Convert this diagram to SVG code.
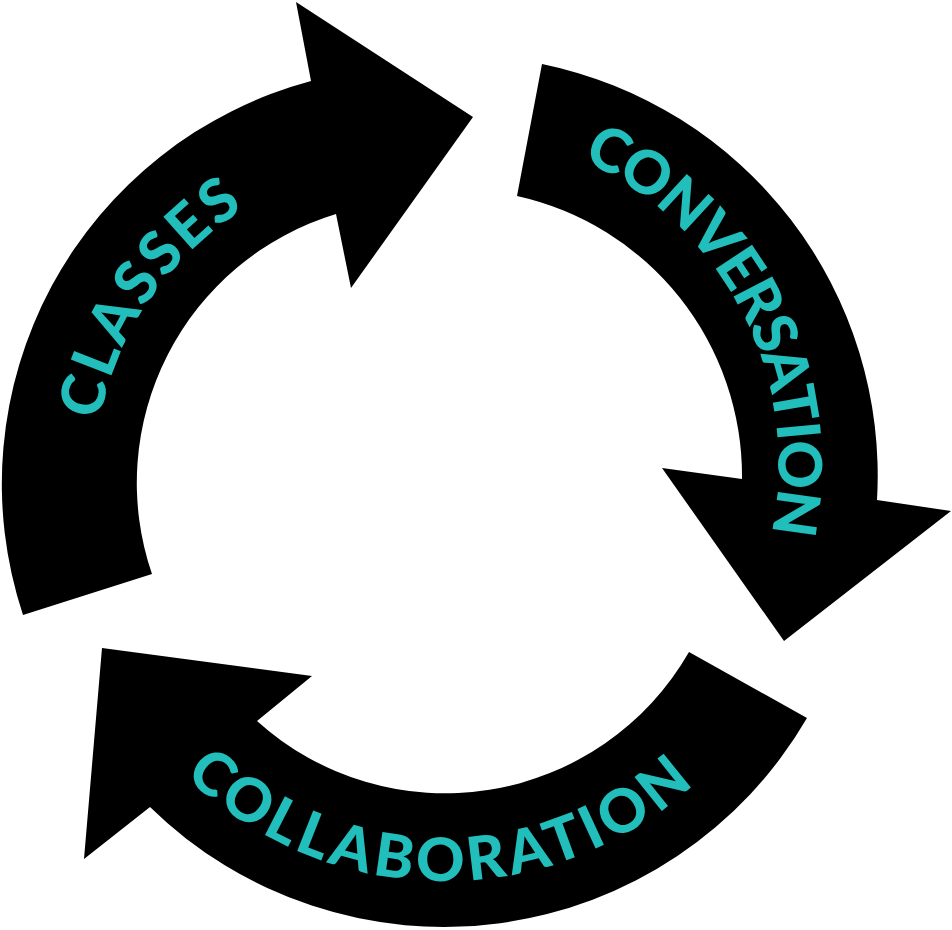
<svg xmlns="http://www.w3.org/2000/svg" xmlns:xlink="http://www.w3.org/1999/xlink" width="952" height="930" viewBox="0 0 952 930">
  <style>
    .arrow { fill: #000000; stroke: none; }
    .label { fill: #22BEBB; font-family: "Lato", "Liberation Sans", sans-serif; font-weight: 900; font-size: 60px; }
  </style>
  <defs>
    <path id="p-classes" d="M 99.3,420.5 A 324.8 324.8 0 0 1 244.0,208.8"/>
    <path id="p-conversation" d="M 581.7,159.8 A 333.5 333.5 0 0 1 771.2,533.3"/>
    <path id="p-collaboration" d="M 184.4,775.1 A 371 371 0 0 0 693.7,784.4"/>
  </defs>
  <rect width="952" height="930" fill="#ffffff"/>
  <g id="connectors">
    <path id="arrow-classes" class="arrow" d="M 23,615 A 417 417 0 0 1 311,81 L 296,2 L 473,117 L 351,288 L 336,214 A 281 281 0 0 0 152,574 Z"/>
    <path id="arrow-conversation" class="arrow" d="M 542,64 A 420 420 0 0 1 877,500 L 951,511 L 784,641 L 662,468 L 742,479 A 287 287 0 0 0 517,196 Z"/>
    <path id="arrow-collaboration" class="arrow" d="M 807,718 A 420 420 0 0 1 150,807 L 84,859 L 102,648 L 312,676 L 257,721 A 281 281 0 0 0 689,652 Z"/>
  </g>
  <g id="node-classes">
    <text class="label"><textPath xlink:href="#p-classes" href="#p-classes" textLength="263.6" lengthAdjust="spacing">CLASSES</textPath></text>
  </g>
  <g id="node-conversation">
    <text class="label"><textPath xlink:href="#p-conversation" href="#p-conversation" textLength="452.8" lengthAdjust="spacing">CONVERSATION</textPath></text>
  </g>
  <g id="node-collaboration">
    <text class="label"><textPath xlink:href="#p-collaboration" href="#p-collaboration" textLength="561.4" lengthAdjust="spacing">COLLABORATION</textPath></text>
  </g>
</svg>
